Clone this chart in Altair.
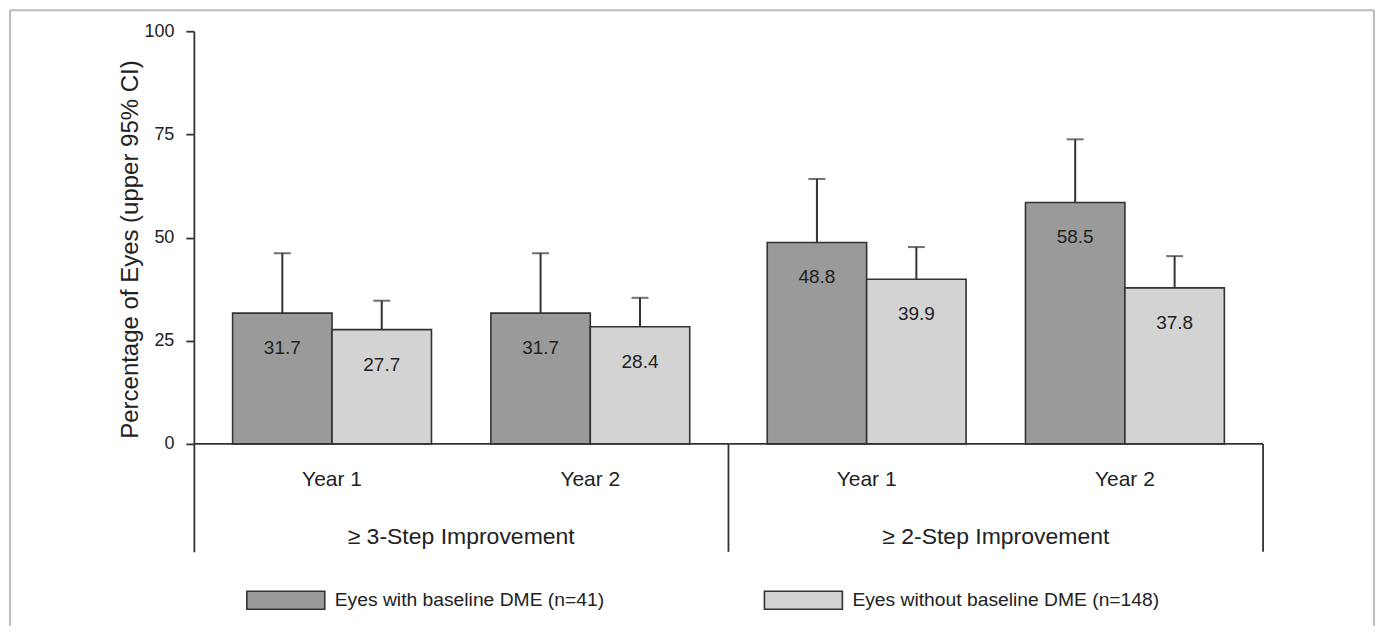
import altair as alt
import pandas as pd

groups = ["≥ 3-Step Improvement", "≥ 2-Step Improvement"]
years = ["Year 1", "Year 2"]
series = ["Eyes with baseline DME (n=41)", "Eyes without baseline DME (n=148)"]
with_vals = [31.7, 31.7, 48.8, 58.5]
without_vals = [27.7, 28.4, 39.9, 37.8]
with_upper = [46.2, 46.2, 64.2, 73.8]
without_upper = [34.7, 35.4, 47.7, 45.5]

rows = []
for gi, g in enumerate(groups):
    for yi, yr in enumerate(years):
        i = gi * 2 + yi
        rows.append({"group": g, "year": yr, "series": series[0], "value": with_vals[i], "upper": with_upper[i]})
        rows.append({"group": g, "year": yr, "series": series[1], "value": without_vals[i], "upper": without_upper[i]})
df = pd.DataFrame(rows)
one = pd.DataFrame({"a": [0]})

FONT = "Liberation Sans, Arial, sans-serif"
INK = "#333333"
TXT = "#222222"
W = 535
H = 521
YMIN = -26.15

yscale = alt.Scale(domain=[YMIN, 100], nice=False, zero=False)
color = alt.Color(
    "series:N",
    sort=series,
    scale=alt.Scale(domain=series, range=["#9a9a9a", "#d3d3d3"]),
    legend=alt.Legend(
        orient="none", legendX=52, legendY=529, direction="horizontal", title=None,
        symbolType="M-1,-0.2308H1V0.2308H-1Z", symbolSize=6084,
        symbolStrokeColor=INK, symbolStrokeWidth=1.6, symbolOpacity=1,
        labelFontSize=19.3, labelFont=FONT, labelColor=TXT, labelOffset=9,
        columnPadding=156, labelLimit=0,
    ),
)


def panel(g, first):
    base = alt.Chart(df).transform_filter(alt.datum.group == g)
    x = alt.X("year:N", sort=years, scale=alt.Scale(paddingInner=0.23, paddingOuter=0.15), axis=None)
    xo = alt.XOffset("series:N", sort=series, scale=alt.Scale(paddingInner=0, paddingOuter=0))
    if first:
        yaxis = alt.Axis(values=[0, 25, 50, 75, 100], title="Percentage of Eyes (upper 95% CI)",
                         grid=False, tickSize=8, labelPadding=12, domainColor=INK, tickColor=INK,
                         domainWidth=1.8, tickWidth=1.8, labelFontSize=18, labelFont=FONT,
                         labelColor=TXT, titleFontSize=24, titleFont=FONT, titleFontWeight="normal",
                         titleColor=TXT, titlePadding=1, titleY=218)
    else:
        yaxis = None

    def YF(field):
        return alt.Y(field, scale=yscale, axis=yaxis)

    def YD(v):
        return alt.YDatum(v, scale=yscale, axis=yaxis)

    bars = base.mark_bar(stroke=INK, strokeWidth=1.6).encode(
        x=x, xOffset=xo, y=YF("value:Q"), color=color)
    err = base.mark_rule(color=INK, strokeWidth=2).encode(
        x=x, xOffset=xo, y=YF("value:Q"), y2="upper:Q")
    cap = base.mark_tick(color=INK, thickness=2, size=17, orient="horizontal").encode(
        x=x, xOffset=xo, y=YF("upper:Q"))
    lbl = base.mark_text(dy=35, fontSize=19, font=FONT, color=TXT).encode(
        x=x, xOffset=xo, y=YF("value:Q"),
        text=alt.Text("value:Q", format=".1f"))
    baseline = alt.Chart(one).mark_rule(color=INK, strokeWidth=1.8).encode(y=YD(0))
    sep = alt.Chart(one).mark_rule(color=INK, strokeWidth=1.8).encode(
        x=alt.value(W), y=YD(0), y2=alt.datum(YMIN))
    year_lbl = base.transform_filter(alt.datum.series == series[0]).mark_text(
        fontSize=21, font=FONT, color=TXT, baseline="middle").encode(
        x=x, y=YD(-8.7), text="year:N")
    grp_lbl = alt.Chart(pd.DataFrame({"group": [g]})).mark_text(
        fontSize=23, font=FONT, color=TXT, baseline="middle").encode(
        x=alt.value(W / 2), y=YD(-22.5), text="group:N")
    layers = [bars, err, cap, lbl, baseline, sep, year_lbl, grp_lbl]
    if first:
        fc = "#bdbdbd"
        top = alt.Chart(one).mark_rule(color=fc, strokeWidth=2).encode(
            x=alt.value(-184), x2=alt.value(1181), y=alt.value(-21))
        left = alt.Chart(one).mark_rule(color=fc, strokeWidth=2).encode(
            x=alt.value(-184), y=alt.value(-21), y2=alt.value(595))
        right = alt.Chart(one).mark_rule(color=fc, strokeWidth=2).encode(
            x=alt.value(1181), y=alt.value(-21), y2=alt.value(595))
        layers = layers + [top, left, right]
    return alt.layer(*layers).properties(width=W, height=H)


chart = alt.hconcat(panel(groups[0], True), panel(groups[1], False), spacing=0, bounds="flush").properties(
    padding={"left": 0, "top": 0, "right": 0, "bottom": 0}
).configure_view(stroke="transparent")

chart.save("out.html", embed_options={"renderer": "svg", "actions": False})
